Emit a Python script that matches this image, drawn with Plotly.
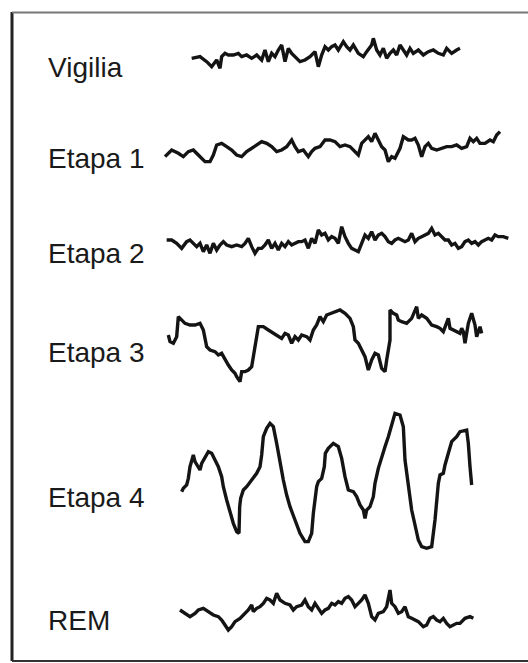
import numpy as np
import plotly.graph_objects as go

# Rótulos das etapas do sono
etapas = ["Vigilia", "Etapa 1", "Etapa 2", "Etapa 3", "Etapa 4", "REM"]

# Traçados de EEG (tempo, deflexão; deflexão positiva = para baixo)
vig_t = [35, 60, 80, 95, 110, 120, 125, 135, 145, 160, 175, 185, 200, 215, 230, 245, 255, 265, 275, 285,
         295, 305, 315, 325, 335, 345, 360, 375, 390, 405, 415, 425, 435, 445, 455, 465, 475, 490, 500, 510,
         520, 535, 550, 560, 575, 580, 590, 600, 610, 620, 630, 640, 650, 660, 670, 680, 690, 700, 715, 730,
         745, 760, 775, 790, 800, 815, 830, 840]
vig_v = [85, 80, 95, 110, 90, 115, 80, 70, 75, 75, 70, 80, 75, 85, 75, 90, 60, 95, 70, 80,
         60, 45, 95, 55, 70, 80, 95, 90, 80, 65, 110, 75, 50, 60, 50, 45, 60, 35, 50, 60,
         45, 70, 80, 65, 45, 25, 60, 75, 55, 85, 70, 60, 75, 45, 60, 75, 55, 70, 60, 75,
         65, 60, 70, 75, 55, 70, 60, 55]

e1_t = [30, 50, 70, 85, 100, 115, 130, 150, 165, 175, 185, 200, 215, 230, 245, 260, 275, 290, 305, 320,
        335, 350, 365, 380, 395, 410, 420, 430, 445, 460, 470, 480, 495, 510, 525, 540, 555, 570, 585, 600,
        610, 620, 630, 640, 650, 660, 670, 680, 690, 700, 710, 720, 735, 745, 760, 770, 780, 790, 800, 810,
        820, 830, 845, 860, 875, 890, 905, 920, 935, 945, 955, 965, 975, 990, 1005, 1015, 1025, 1035]
e1_v = [125, 105, 115, 125, 110, 105, 120, 140, 140, 120, 90, 85, 95, 105, 120, 125, 110, 100, 90, 80,
        85, 95, 110, 105, 95, 75, 95, 110, 105, 125, 110, 100, 95, 75, 75, 80, 95, 90, 95, 110,
        120, 85, 75, 65, 80, 55, 75, 95, 105, 140, 125, 130, 100, 65, 75, 75, 70, 90, 125, 95,
        85, 100, 105, 100, 95, 95, 90, 100, 95, 70, 80, 70, 85, 85, 75, 80, 60, 50]

e2_t = [35, 50, 65, 80, 95, 105, 115, 125, 135, 145, 155, 165, 175, 185, 195, 205, 215, 230, 245, 260,
        270, 280, 290, 300, 310, 320, 330, 340, 350, 360, 370, 380, 390, 400, 410, 420, 430, 440, 450, 460,
        470, 480, 490, 500, 510, 520, 530, 540, 550, 560, 570, 580, 590, 600, 610, 620, 630, 640, 650, 660,
        670, 680, 690, 700, 710, 720, 730, 740, 750, 760, 770, 780, 790, 800, 810, 820, 830, 840, 850, 860,
        870, 880, 890, 900, 910, 920, 930, 940, 950, 960, 970, 980, 990, 1000, 1010, 1020, 1030, 1045, 1060]
e2_v = [75, 75, 85, 100, 80, 75, 85, 95, 85, 110, 90, 115, 85, 105, 90, 80, 90, 95, 90, 95,
        85, 70, 95, 115, 100, 100, 90, 75, 100, 85, 105, 85, 95, 80, 90, 85, 80, 80, 75, 100,
        70, 85, 45, 60, 55, 75, 65, 70, 85, 35, 65, 85, 100, 105, 110, 85, 60, 70, 50, 75,
        60, 55, 65, 80, 85, 75, 70, 75, 80, 75, 55, 80, 70, 65, 60, 55, 40, 60, 55, 65,
        75, 75, 90, 85, 100, 95, 80, 75, 85, 80, 90, 80, 75, 70, 75, 60, 65, 65, 70]

e3_t = [25, 30, 40, 50, 55, 65, 75, 90, 105, 120, 130, 140, 150, 165, 175, 185, 195, 205, 215, 225,
        230, 240, 245, 255, 265, 275, 280, 285, 290, 295, 310, 325, 340, 355, 365, 375, 385, 395, 405, 415,
        425, 440, 450, 460, 470, 480, 490, 500, 515, 530, 540, 555, 570, 580, 585, 595, 605, 615, 625, 635,
        645, 655, 665, 675, 680, 685, 690, 690, 700, 710, 715, 725, 740, 755, 770, 775, 785, 800, 815, 830,
        840, 850, 860, 865, 870, 880, 890, 900, 905, 910, 915, 925, 935, 945, 950, 955, 960, 965]
e3_v = [105, 125, 130, 110, 50, 60, 70, 75, 75, 70, 90, 140, 150, 155, 165, 160, 180, 195, 210, 220,
        230, 245, 215, 215, 210, 200, 170, 130, 110, 80, 80, 90, 100, 110, 115, 100, 105, 130, 110, 120,
        105, 110, 120, 90, 75, 50, 65, 45, 40, 35, 30, 40, 55, 80, 120, 130, 150, 170, 210, 180,
        160, 165, 205, 215, 180, 150, 120, 30, 40, 45, 60, 65, 70, 55, 20, 55, 45, 55, 75, 80,
        85, 95, 70, 55, 85, 90, 95, 100, 85, 95, 130, 70, 40, 75, 110, 95, 80, 100]

e4_t = [35, 40, 50, 55, 60, 70, 75, 80, 90, 95, 105, 115, 125, 135, 145, 155, 160, 170, 180, 190,
        200, 207, 209, 212, 220, 230, 245, 260, 270, 275, 280, 290, 300, 310, 320, 330, 340, 350, 360, 375,
        390, 405, 415, 425, 430, 440, 445, 455, 463, 466, 475, 490, 505, 515, 525, 535, 550, 560, 570, 580,
        585, 590, 600, 610, 615, 625, 635, 645, 655, 665, 675, 690, 700, 705, 715, 725, 735, 745, 755, 770,
        785, 790, 795, 805, 810, 820, 825, 835, 845, 860, 870, 890, 895, 900, 905]
e4_v = [275, 265, 255, 235, 200, 165, 185, 195, 210, 190, 170, 155, 160, 180, 200, 230, 260, 300, 340, 370,
        395, 400, 320, 295, 270, 260, 240, 220, 200, 165, 110, 85, 70, 80, 130, 190, 240, 285, 320, 360,
        400, 425, 425, 400, 340, 260, 245, 235, 200, 160, 145, 130, 140, 175, 230, 270, 275, 290, 315, 330,
        355, 330, 320, 290, 250, 205, 170, 140, 110, 70, 40, 45, 80, 180, 260, 330, 375, 420, 440, 445,
        440, 400, 360, 250, 225, 220, 195, 160, 125, 110, 95, 90, 130, 200, 255]

rem_t = [30, 45, 60, 75, 85, 100, 115, 130, 145, 155, 165, 175, 185, 195, 210, 225, 235, 245, 250, 260,
         270, 280, 290, 300, 310, 320, 330, 345, 360, 370, 380, 395, 405, 415, 425, 435, 445, 455, 465, 475,
         485, 495, 505, 515, 525, 535, 545, 555, 565, 575, 585, 595, 605, 615, 625, 640, 650, 660, 665, 675,
         685, 695, 705, 715, 725, 735, 745, 760, 770, 780, 790, 800, 810, 820, 830, 840, 850, 860, 870, 885,
         900, 910]
rem_v = [90, 100, 110, 100, 90, 85, 95, 105, 110, 120, 135, 150, 140, 125, 115, 100, 90, 75, 95, 85,
         80, 70, 55, 60, 70, 40, 60, 70, 75, 90, 80, 75, 60, 80, 90, 70, 85, 100, 90, 85,
         70, 75, 65, 70, 55, 50, 60, 80, 70, 60, 45, 70, 110, 120, 100, 95, 80, 30, 70, 80,
         100, 95, 80, 110, 115, 120, 125, 140, 135, 115, 110, 120, 125, 115, 130, 140, 135, 130, 130, 115,
         110, 115]

series = [(vig_t, vig_v), (e1_t, e1_v), (e2_t, e2_v), (e3_t, e3_v), (e4_t, e4_v), (rem_t, rem_v)]

# Posição de cada traçado na página (origem x, origem y) e altura do rótulo
origens = [(180, 30), (155, 115), (155, 215), (160, 300), (170, 400), (170, 580)]
y_rotulos = [67, 158, 253, 352, 497, 620]
escala = 3.0

fig = go.Figure()

for (t, v), (x0, y0) in zip(series, origens):
    fig.add_trace(go.Scatter(
        x=x0 + np.array(t) / escala,
        y=y0 + np.array(v) / escala,
        mode="lines",
        line=dict(color="#141414", width=3.4),
        hoverinfo="skip",
        showlegend=False,
    ))

for nome, yr in zip(etapas, y_rotulos):
    fig.add_annotation(
        x=46, y=yr, text=nome, showarrow=False,
        xanchor="left", yanchor="middle",
        font=dict(family="Liberation Sans, Arial, sans-serif", size=28, color="#1a1a1a"),
    )

# Moldura: esquerda, topo e base
fig.add_shape(type="line", x0=12, x1=12, y0=12, y1=661, line=dict(color="#222222", width=3))
fig.add_shape(type="line", x0=12, x1=528, y0=12.5, y1=12.5, line=dict(color="#777777", width=2))
fig.add_shape(type="line", x0=12, x1=528, y0=661, y1=661, line=dict(color="#333333", width=2))

fig.update_layout(
    width=528, height=663,
    margin=dict(l=0, r=0, t=0, b=0),
    plot_bgcolor="white",
    paper_bgcolor="white",
    xaxis=dict(range=[0, 528], visible=False, fixedrange=True),
    yaxis=dict(range=[663, 0], visible=False, fixedrange=True),
)

fig.write_html("out.html", config=dict(displayModeBar=False),
               post_script="document.body.style.margin='0';document.body.style.overflow='hidden';")
